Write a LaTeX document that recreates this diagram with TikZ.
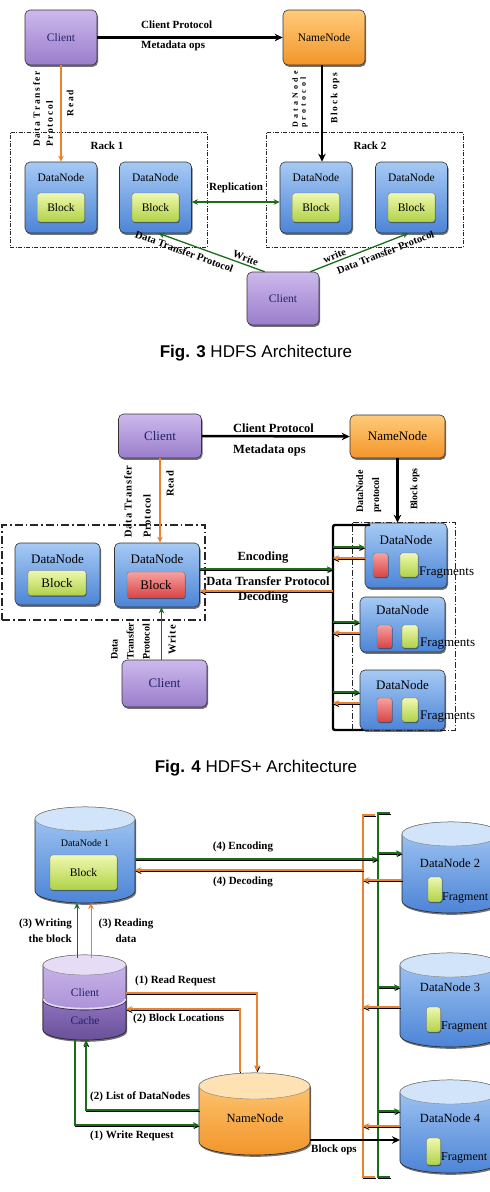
\documentclass[tikz,border=0pt]{standalone}
\usepackage{fontspec}
\setmainfont{Liberation Serif}
\newfontfamily\capfont{Liberation Sans}
\usetikzlibrary{arrows.meta,shadows,calc}
\definecolor{cltop}{HTML}{CDB9EC}
\definecolor{clbot}{HTML}{9A7DCC}
\definecolor{nntop}{HTML}{FFCB7A}
\definecolor{nnbot}{HTML}{F2952A}
\definecolor{dntop}{HTML}{A6CAF4}
\definecolor{dnbot}{HTML}{4C84D6}
\definecolor{bltop}{HTML}{F0F8B0}
\definecolor{blbot}{HTML}{AFD246}
\definecolor{rdtop}{HTML}{F7A0A0}
\definecolor{rdbot}{HTML}{D84444}
\definecolor{agreen}{HTML}{1A6E1A}
\definecolor{aorange}{HTML}{E8822C}
\definecolor{cltext}{HTML}{22226A}
\definecolor{dncap}{HTML}{D2E4FA}
\definecolor{nncap}{HTML}{FFE2B4}
\definecolor{clcap}{HTML}{E6DCF5}
\definecolor{cachetop}{HTML}{8E72BE}
\definecolor{cachebot}{HTML}{6A5099}
\tikzset{
  shd/.style={drop shadow={opacity=0.55, fill=black, shadow xshift=1pt, shadow yshift=-1.8pt}},
  rbox/.style={rounded corners=5pt, draw=black!80, line width=0.6pt, inner sep=0pt, shd},
  clbox/.style={rbox, top color=cltop, bottom color=clbot, text=cltext},
  nnbox/.style={rbox, top color=nntop, bottom color=nnbot},
  dnbox/.style={rbox, top color=dntop, bottom color=dnbot},
  blk/.style={rounded corners=2.5pt, draw=black!55, line width=0.4pt, inner sep=0pt, top color=bltop, bottom color=blbot, drop shadow={opacity=0.45, fill=black, shadow xshift=0.6pt, shadow yshift=-1pt}},
  redblk/.style={blk, top color=rdtop, bottom color=rdbot},
  ntA/.style={font=\fontsize{11.5}{13}\selectfont, inner sep=0pt},
  ntB/.style={font=\fontsize{13}{15}\selectfont, inner sep=0pt},
  ntC/.style={font=\fontsize{11.5}{13}\selectfont, inner sep=0pt},
  ntD/.style={font=\fontsize{12.5}{14}\selectfont, inner sep=0pt},
  ntE/.style={font=\fontsize{10}{12}\selectfont, inner sep=0pt},
  fragF/.style={font=\fontsize{13}{15}\selectfont, inner sep=0pt},
  fragG/.style={font=\fontsize{12}{14}\selectfont, inner sep=0pt},
  lblA/.style={font=\bfseries\fontsize{11}{13}\selectfont, inner sep=0pt},
  lblS/.style={font=\bfseries\fontsize{10.5}{12}\selectfont, inner sep=0pt},
  lblB/.style={font=\bfseries\fontsize{12.5}{14}\selectfont, inner sep=0pt},
  lblC/.style={font=\bfseries\fontsize{11}{16}\selectfont, inner sep=0pt},
  rl3/.style={rotate=90, inner sep=0pt, align=left, font=\bfseries\fontsize{9.5}{13}\selectfont\addfontfeatures{LetterSpace=18}},
  rl3s/.style={rotate=90, inner sep=0pt, align=left, font=\bfseries\fontsize{8}{8}\selectfont\addfontfeatures{LetterSpace=40}},
  rl4/.style={rotate=90, inner sep=0pt, align=left, font=\bfseries\fontsize{10.5}{19}\selectfont\addfontfeatures{LetterSpace=8}},
  rl4b/.style={rotate=90, inner sep=0pt, align=left, font=\bfseries\fontsize{10}{16}\selectfont},
  capF/.style={font=\capfont\fontsize{17}{20}\selectfont, inner sep=0pt},
  tipS/.style={-{Stealth[length=6pt,width=5.5pt]}},
  darkedge/.style={preaction={draw=black, line width=1pt, transform canvas={shift={(0.5pt,-1.3pt)}}}},
  garr/.style={draw=agreen, line width=1.3pt, tipS},
  oarr/.style={draw=aorange, line width=1.3pt, tipS},
  barr/.style={draw=black, line width=2.5pt, -{Stealth[length=8pt,width=7.5pt]}},
  rackA/.style={draw=black!85, line width=0.7pt, dash pattern=on 4pt off 1.5pt on 1pt off 1.5pt, inner sep=0pt},
  rackB/.style={draw=black!85, line width=1.4pt, dash pattern=on 8pt off 3pt on 1.5pt off 3pt, inner sep=0pt},
  rackC/.style={draw=black!85, line width=0.8pt, dash pattern=on 6pt off 2pt on 1pt off 2pt, inner sep=0pt},
  cylout/.style={draw=black!85, line width=0.6pt, shd},
  cyltop/.style={draw=black!50, line width=0.4pt},
  busO/.style={draw=aorange, line width=1.5pt, darkedge},
  busG/.style={draw=agreen, line width=1.5pt, darkedge},
  busK/.style={draw=black, line width=2.4pt, rounded corners=2pt},
}
\newcommand\mycyl[9]{%
 \pgfmathsetmacro\cyCx{(#2+#4)/2}%
 \pgfmathsetmacro\cyRx{(#4-#2)/2}%
 \pgfmathsetmacro\cyKx{0.5523*\cyRx}%
 \pgfmathsetmacro\cyKr{0.5523*#6}%
 \pgfmathsetmacro\cyYt{#3+#6}%
 \pgfmathsetmacro\cyYb{#5-#6}%
 \pgfmathsetmacro\cyW{#4-#2}%
 \pgfmathsetmacro\cyH{#5-#3}%
 \pgfmathsetmacro\cyCy{(#3+#5)/2}%
 \path[cylout, top color=#7, bottom color=#8] (#2,\cyYt) -- (#2,\cyYb) .. controls (#2,\cyYb+\cyKr) and (\cyCx-\cyKx,#5) .. (\cyCx,#5) .. controls (\cyCx+\cyKx,#5) and (#4,\cyYb+\cyKr) .. (#4,\cyYb) -- (#4,\cyYt) .. controls (#4,\cyYt-\cyKr) and (\cyCx+\cyKx,#3) .. (\cyCx,#3) .. controls (\cyCx-\cyKx,#3) and (#2,\cyYt-\cyKr) .. (#2,\cyYt) -- cycle;
 \path[cyltop, fill=#9] (#2,\cyYt) .. controls (#2,\cyYt-\cyKr) and (\cyCx-\cyKx,#3) .. (\cyCx,#3) .. controls (\cyCx+\cyKx,#3) and (#4,\cyYt-\cyKr) .. (#4,\cyYt) .. controls (#4,\cyYt+\cyKr) and (\cyCx+\cyKx,\cyYt+#6) .. (\cyCx,\cyYt+#6) .. controls (\cyCx-\cyKx,\cyYt+#6) and (#2,\cyYt+\cyKr) .. (#2,\cyYt) -- cycle;
 \node[inner sep=0pt, outer sep=0pt, minimum width={\cyW*1pt}, minimum height={\cyH*1pt}] (#1) at (\cyCx,\cyCy) {};
}
\begin{document}
\begin{tikzpicture}[x=1pt,y=-1pt]
\fill[white] (0,0) rectangle (490,1192);
\useasboundingbox (0,0) rectangle (490,1192);

% ================= Fig. 3 =================
\node[rackA, minimum width=197pt, minimum height=115pt] (r31) at (108.5,189.5) {};
\node[rackA, minimum width=197pt, minimum height=115pt] (r32) at (364.5,189.5) {};
\node[lblA] (r31t) at (107,146) {Rack 1};
\node[lblA] (r32t) at (370,146) {Rack 2};
\node[clbox, minimum width=72pt, minimum height=55pt, ntA] (c3a) at (61,37.5) {Client};
\node[nnbox, minimum width=82pt, minimum height=55pt, ntA] (n3) at (324,37.5) {NameNode};
\foreach \n/\x in {d31/61, d32/155.5, d33/316, d34/411.5}{
  \node[dnbox, minimum width=72pt, minimum height=71pt] (\n) at (\x,197.5) {};
  \node[ntA] (\n-t) at (\x,178) {DataNode};
  \node[blk, minimum width=47pt, minimum height=29pt, ntA] (\n-b) at (\x,207.5) {Block};
}
\node[clbox, minimum width=72pt, minimum height=53pt, ntA] (c3b) at (283,298.5) {Client};

\draw[barr] (c3a.east) -- (n3.west);
\node[lblA, anchor=west] (l3a) at (141,25) {Client Protocol};
\node[lblA, anchor=west] (l3b) at (141,46) {Metadata ops};
\draw[oarr] (c3a.south) -- (d31.north);
\node[rl3, anchor=north west] (l3c) at (33,147) {Data Transfer\\Protocol};
\node[rl3] (l3d) at (70,103) {Read};
\coordinate (n3s) at ($(n3.south)+(-2,0)$);
\draw[barr] (n3s) -- (n3s |- d33.north);
\node[rl3s, anchor=north west] (l3e) at (292,128) {DataNode\\protocol};
\node[rl3] (l3f) at (335,98) {Block ops};
\draw[garr, {Stealth[length=6pt,width=5.5pt]}-{Stealth[length=6pt,width=5.5pt]}] ($(d32.east)+(0,4.5)$) -- ($(d33.west)+(0,4.5)$);
\node[lblA] (l3r) at (236,188) {Replication};
\draw[garr, {Stealth[length=6pt,width=5.5pt]}-] ($(d32.south)+(3,0)$) -- node[lblS, sloped, below=4pt, pos=0.27] (l3h) {Data Transfer Protocol} node[lblS, sloped, above=2pt, pos=0.8] (l3g) {Write} ($(c3b.north west)+(18,0)$);
\draw[garr] ($(c3b.north east)+(-9,0)$) -- node[lblS, sloped, above=2pt, pos=0.27] (l3i) {write} node[lblS, sloped, below=5pt, pos=0.73] (l3j) {Data Transfer Protocol} ($(d34.south)+(-3,0)$);
\node[capF] (cap3) at (256,353) {\textbf{Fig. 3} HDFS Architecture};

% ================= Fig. 4 =================
\node[rackB, minimum width=203pt, minimum height=95pt] (r41) at (103.5,572.5) {};
\node[rackC, minimum width=103pt, minimum height=208pt] (r42) at (403.5,626) {};
\node[clbox, minimum width=83pt, minimum height=44pt, ntB] (c4a) at (160,436) {Client};
\node[nnbox, minimum width=95pt, minimum height=43pt, ntB] (n4) at (397.5,436.5) {NameNode};
\node[dnbox, minimum width=85pt, minimum height=62pt] (d41) at (57.5,574) {};
\node[ntB] (d41-t) at (57.5,559) {DataNode};
\node[blk, minimum width=58pt, minimum height=25pt, ntB] (d41-b) at (57,583) {Block};
\node[dnbox, minimum width=85pt, minimum height=64pt] (d42) at (157,575) {};
\node[ntB] (d42-t) at (157,559) {DataNode};
\node[redblk, minimum width=58pt, minimum height=26pt, ntB] (d42-b) at (156,585) {Block};

\node[dnbox, minimum width=82pt, minimum height=65pt] (d4a) at (406,555.5) {};
\node[ntB] (d4a-t) at (406,540) {DataNode};
\node[redblk, minimum width=15pt, minimum height=24pt] (d4a-r) at (380.5,565) {};
\node[blk, minimum width=18pt, minimum height=24pt] (d4a-g) at (409,565) {};
\node[fragF, anchor=west] (d4a-f) at (419,573) {Fragments};
\node[dnbox, minimum width=85pt, minimum height=55pt] (d4b) at (402.5,624.5) {};
\node[ntB] (d4b-t) at (402.5,610) {DataNode};
\node[redblk, minimum width=15pt, minimum height=23pt] (d4b-r) at (384.5,636.5) {};
\node[blk, minimum width=16pt, minimum height=23pt] (d4b-g) at (410,636.5) {};
\node[fragF, anchor=west] (d4b-f) at (420,644) {Fragments};
\node[dnbox, minimum width=85pt, minimum height=60pt] (d4c) at (402.5,700) {};
\node[ntB] (d4c-t) at (402.5,685) {DataNode};
\node[redblk, minimum width=15pt, minimum height=24pt] (d4c-r) at (384.5,710) {};
\node[blk, minimum width=16pt, minimum height=24pt] (d4c-g) at (410,710) {};
\node[fragF, anchor=west] (d4c-f) at (420,717) {Fragments};
\node[clbox, minimum width=85pt, minimum height=47pt, ntB] (c4b) at (164.5,683.5) {Client};

\draw[barr] (c4a.east) -- (n4.west);
\node[lblB, anchor=west] (l4a) at (233,428) {Client Protocol};
\node[lblB, anchor=west] (l4b) at (233,450) {Metadata ops};
\draw[oarr] (c4a.south) -- (c4a.south |- d42.north);
\node[rl4, anchor=north west] (l4c) at (124,538) {Data Transfer\\Protocol};
\node[rl4] (l4d) at (170,484) {Read};
\draw[barr] (n4.south) -- (n4.south |- d4a.north);
\node[rl4b, anchor=north west] (l4e) at (356,513) {DataNode\\protocol};
\node[rl4b] (l4f) at (415,489) {Block ops};

\coordinate (bus1) at (370,525);
\coordinate (bus2) at (333,525);
\coordinate (bus3) at (333,730);
\coordinate (bus4) at (363,730);
\draw[busK] (bus1) -- (bus2) -- (bus3) -- (bus4);
\draw[garr, darkedge] ($(d4a.west)+(-32,-8.5)$) -- ($(d4a.west)+(0,-8.5)$);
\draw[oarr, darkedge] ($(d4a.west)+(0,2.5)$) -- ($(d4a.west)+(-32,2.5)$);
\draw[garr, darkedge] ($(d4b.west)+(-27,-2.5)$) -- ($(d4b.west)+(0,-2.5)$);
\draw[oarr, darkedge] ($(d4b.west)+(0,8.5)$) -- ($(d4b.west)+(-27,8.5)$);
\draw[garr, darkedge] ($(d4c.west)+(-27,-8)$) -- ($(d4c.west)+(0,-8)$);
\draw[oarr, darkedge] ($(d4c.west)+(0,3)$) -- ($(d4c.west)+(-27,3)$);
\draw[garr, darkedge] ($(d42.east)+(0,-6)$) -- ($(d42.east)+(133,-6)$);
\draw[oarr, darkedge] ($(d42.east)+(133,16)$) -- ($(d42.east)+(0,16)$);
\node[lblB] (l4g) at (263,558) {Encoding};
\node[lblB] (l4h) at (268,581) {Data Transfer Protocol};
\node[lblB] (l4i) at (263,598) {Decoding};
\coordinate (c4bn) at ($(c4b.north)+(-3,0)$);
\draw[garr] (c4bn) -- (c4bn |- d42.south);
\node[rl4b, anchor=north west] (l4j) at (111,660) {Data\\Transfer\\Protocol};
\node[rl4] (l4k) at (172,640) {Write};
\node[capF] (cap4) at (256,768) {\textbf{Fig. 4} HDFS+ Architecture};

% ================= Fig. 5 =================
\coordinate (ob1) at (375,815);
\coordinate (ob2) at (363,815);
\coordinate (ob3) at (363,1177);
\coordinate (ob4) at (375,1177);
\coordinate (gb1) at (390,813);
\coordinate (gb2) at (378,813);
\coordinate (gb3) at (378,1177);
\coordinate (gb4) at (390,1177);
\draw[busO] (ob1) -- (ob2) -- (ob3) -- (ob4);
\draw[busG] (gb1) -- (gb2) -- (gb3) -- (gb4);

\mycyl{dn1}{35}{807}{135}{903}{12}{dntop}{dnbot}{dncap}
\node[ntE] (dn1-t) at (85,843) {DataNode 1};
\node[blk, minimum width=67pt, minimum height=35pt, ntC] (dn1-b) at (83.5,872.5) {Block};

\mycyl{dn2}{402}{822}{500}{913}{12}{dntop}{dnbot}{dncap}
\node[ntD] (dn2-t) at (450,863) {DataNode 2};
\node[blk, minimum width=14pt, minimum height=25pt] (dn2-g) at (435,889.5) {};
\node[fragG, anchor=west] (dn2-f) at (442,898) {Fragment};
\mycyl{dn3}{400}{953}{500}{1047}{12}{dntop}{dnbot}{dncap}
\node[ntD] (dn3-t) at (450,987) {DataNode 3};
\node[blk, minimum width=14pt, minimum height=25pt] (dn3-g) at (433.5,1019.5) {};
\node[fragG, anchor=west] (dn3-f) at (441,1027) {Fragment};
\mycyl{dn4}{400}{1080}{500}{1173}{12}{dntop}{dnbot}{dncap}
\node[ntD] (dn4-t) at (450,1118) {DataNode 4};
\node[blk, minimum width=14pt, minimum height=27pt] (dn4-g) at (433.5,1151.5) {};
\node[fragG, anchor=west] (dn4-f) at (441,1158) {Fragment};

\mycyl{n5}{199}{1073}{310}{1155}{13}{nntop}{nnbot}{nncap}
\node[ntD] (n5-t) at (255,1118) {NameNode};

\mycyl{c5}{43}{955}{126}{1040}{10}{cltop}{clbot}{clcap}
\path[draw=black!85, line width=0.6pt, top color=cachetop, bottom color=cachebot] (43,1000) .. controls (43,1005.5) and (61.6,1010) .. (84.5,1010) .. controls (107.4,1010) and (126,1005.5) .. (126,1000) -- (126,1030) .. controls (126,1035.5) and (107.4,1040) .. (84.5,1040) .. controls (61.6,1040) and (43,1035.5) .. (43,1030) -- cycle;
\draw[clcap, line width=1.4pt] (43.5,999) .. controls (43.5,1004.5) and (61.6,1008.5) .. (84.5,1008.5) .. controls (107.4,1008.5) and (125.5,1004.5) .. (125.5,999);
\node[ntC, text=cltext] (c5-t) at (85,993) {Client};
\node[ntC, text=cltext] (c5-c) at (85,1021) {Cache};

\draw[garr, darkedge] ($(dn1.east)+(0,4)$) -- ($(dn1.east)+(243,4)$);
\draw[oarr, darkedge] ($(dn1.east)+(228,15)$) -- ($(dn1.east)+(0,15)$);
\node[lblC] (l5a) at (243,847) {(4) Encoding};
\node[lblC] (l5b) at (243,882) {(4) Decoding};
\draw[garr, darkedge] ($(dn2.west)+(-24,-14.5)$) -- ($(dn2.west)+(0,-14.5)$);
\draw[oarr, darkedge] ($(dn2.west)+(0,12.5)$) -- ($(dn2.west)+(-39,12.5)$);
\draw[garr, darkedge] ($(dn3.west)+(-22,-13)$) -- ($(dn3.west)+(0,-13)$);
\draw[oarr, darkedge] ($(dn3.west)+(0,7)$) -- ($(dn3.west)+(-37,7)$);
\draw[garr, darkedge] ($(dn4.west)+(-22,-15.5)$) -- ($(dn4.west)+(0,-15.5)$);
\draw[oarr, darkedge] ($(dn4.west)+(0,-0.5)$) -- ($(dn4.west)+(-37,-0.5)$);
\draw[barr] ($(n5.east)+(0,26)$) -- ($(dn4.west)+(0,13.5)$);
\node[lblC] (l5i) at (334,1150) {Block ops};

\draw[garr, line width=1pt] ($(c5.north)+(-7.5,3)$) -- ($(dn1.south)+(-8,0)$);
\draw[oarr, line width=1pt] ($(c5.north)+(6.5,3)$) -- ($(dn1.south)+(6,0)$);
\node[lblC, align=right, anchor=east] (l5c) at (72,931) {(3) Writing\\the block};
\node[lblC, align=center] (l5d) at (126,931) {(3) Reading\\data};

\draw[oarr, darkedge] ($(c5.east)+(0,-4.5)$) -| ($(n5.north)+(2.5,-2)$);
\node[lblC, anchor=west] (l5e) at (135,981) {(1) Read Request};
\draw[oarr, darkedge] ($(n5.north)+(-14.5,-1)$) |- ($(c5.east)+(0,11.5)$);
\node[lblC, anchor=west] (l5f) at (133,1019) {(2) Block Locations};
\draw[garr, darkedge] ($(c5.south)+(-9.5,0)$) |- ($(n5.west)+(0,11)$);
\node[lblC, anchor=west] (l5g) at (90,1136) {(1) Write Request};
\draw[garr, darkedge] ($(n5.west)+(0,-4)$) -| ($(c5.south)+(1.5,0)$);
\node[lblC, anchor=west] (l5h) at (90,1097) {(2) List of DataNodes};
\end{tikzpicture}
\end{document}
